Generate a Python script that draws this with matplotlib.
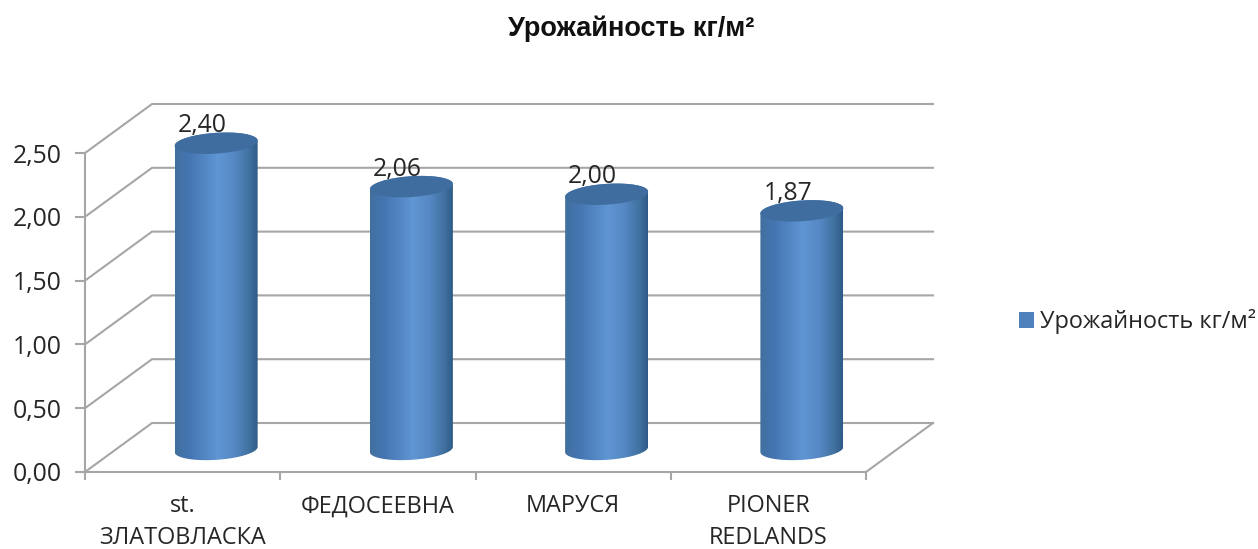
import numpy as np
import matplotlib
matplotlib.use("Agg")
import matplotlib.pyplot as plt
from matplotlib.colors import LinearSegmentedColormap
from matplotlib.patches import Patch, PathPatch
from matplotlib.path import Path

categories = ["st.\nЗЛАТОВЛАСКА", "ФЕДОСЕЕВНА", "МАРУСЯ", "PIONER\nREDLANDS"]
values = [2.40, 2.06, 2.00, 1.87]
value_labels = ["2,40", "2,06", "2,00", "1,87"]
y_ticks = [0.0, 0.5, 1.0, 1.5, 2.0, 2.5]
y_tick_labels = ["0,00", "0,50", "1,00", "1,50", "2,00", "2,50"]
series_name = "Урожайность кг/м²"
title = "Урожайность кг/м²"

W, H = 1258, 549
GRID = "#a6a6a6"
TEXT = "#262626"
FONT = "Open Sans"

fig = plt.figure(figsize=(W / 100, H / 100), dpi=100, facecolor="white")
ax = fig.add_axes([85 / W, (H - 472) / H, 781 / W, 319 / H])
ax.set_xlim(0, len(categories))
ax.set_ylim(0, 2.5)
ax.patch.set_alpha(0)

sx, sy = 781 / len(categories), 319 / 2.5   # px per data unit
dx, dy = 67 / sx, 49 / sy                   # depth of the 3D box

# walls and floor
for v in y_ticks:
    ax.plot([0, dx, len(categories) + dx], [v, v + dy, v + dy], color=GRID, lw=1.5,
            clip_on=False, zorder=1, solid_joinstyle="miter")
ax.plot([len(categories), len(categories) + dx], [0, dy], color=GRID, lw=1.5, clip_on=False, zorder=1)

# axes
for s in ("top", "right"):
    ax.spines[s].set_visible(False)
for s in ("left", "bottom"):
    ax.spines[s].set_color(GRID)
    ax.spines[s].set_linewidth(1.5)
ax.set_yticks(y_ticks, y_tick_labels, fontsize=17.8, color=TEXT, family=FONT)
ax.set_xticks(range(len(categories) + 1), [""] * (len(categories) + 1))
ax.set_xticks(np.arange(len(categories)) + 0.5, categories, minor=True,
              fontsize=16.9, color=TEXT, family=FONT, linespacing=1.42, va="top")
ax.tick_params(axis="y", length=7, width=1.5, color=GRID, pad=10)
ax.tick_params(axis="x", which="major", length=6, width=1.5, color=GRID)
ax.tick_params(axis="x", which="minor", length=0, pad=16)

# cylinders
cmap = LinearSegmentedColormap.from_list(
    "cyl",
    [(0.0, "#41709f"), (0.18, "#4576b2"), (0.52, "#5f96d3"), (0.72, "#5588c4"),
     (0.9, "#41719f"), (1.0, "#2f5a88")],
)
shade = np.linspace(0, 1, 256)[None, :]
a_px, b_px, shear_px = 41.5, 10.4, 2.6
a = a_px / sx
t = np.linspace(0, 2 * np.pi, 121)


def rim(cx, cy, angles):
    return (cx + a * np.cos(angles),
            cy + (b_px * np.sin(angles) + shear_px * np.cos(angles)) / sy)


base_y = 0.46 * dy
for i, (v, lab) in enumerate(zip(values, value_labels)):
    cx = i + 0.5 + dx / 2
    top = base_y + v
    # body outline: bottom rim from right to left, then back over the top
    bx, by = rim(cx, base_y, np.linspace(0, -np.pi, 80))
    tx, ty = rim(cx, top, np.linspace(np.pi, 0, 80))
    body = Path(np.column_stack([np.r_[bx, tx], np.r_[by, ty]]))
    im = ax.imshow(shade, cmap=cmap, aspect="auto", zorder=3,
                   extent=[cx - a, cx + a, base_y - 0.2, top + 0.2])
    p = PathPatch(body, transform=ax.transData, fc="none", ec="none")
    ax.add_patch(p)
    im.set_clip_path(p)
    im.set_clip_box(fig.bbox)
    ex, ey = rim(cx, top, t)
    ax.fill(ex, ey, color="#3f6d9f", zorder=4, clip_on=False, lw=0)
    ax.annotate(lab, (cx, top), xytext=(-10.2, 12.5), textcoords="offset points",
                ha="center", va="center", fontsize=17.8, color=TEXT, family=FONT,
                zorder=5, annotation_clip=False)

ax.set_xlim(0, len(categories))
ax.set_ylim(0, 2.5)

# legend
leg = ax.legend(handles=[Patch(facecolor="#4f81bd", label=series_name)],
                loc="center left", bbox_to_anchor=(1019 / W, (H - 322) / H),
                bbox_transform=fig.transFigure, frameon=False, borderpad=0, borderaxespad=0,
                handlelength=0.64, handleheight=0.64, handletextpad=0.26,
                prop={"family": FONT, "size": 16.9}, labelcolor=TEXT)

fig.text(631 / W, (H - 28.5) / H, title, ha="center", va="center", fontsize=19.5,
         fontweight="bold", family="Liberation Sans", color="#111111")

fig.savefig("out.png", dpi=100, facecolor="white")
